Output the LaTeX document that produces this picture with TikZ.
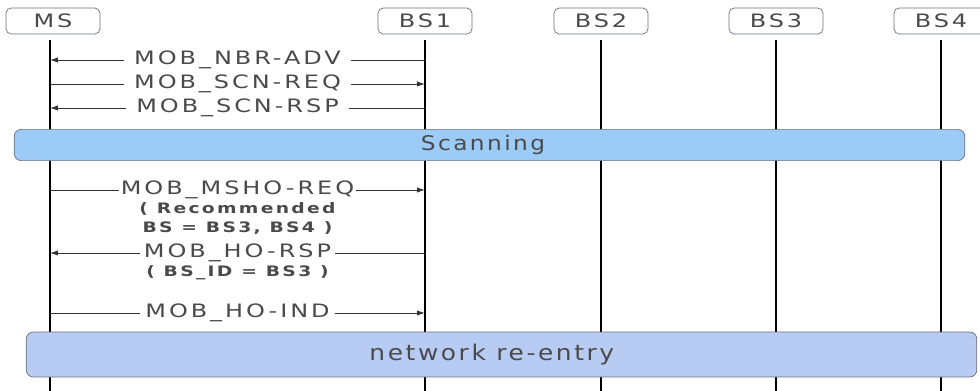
\documentclass[tikz,border=0pt]{standalone}
\usepackage{fontspec}
\setmainfont{DejaVu Sans}
\newfontfamily\seqfont[FakeStretch=1.3,LetterSpace=16]{DejaVu Sans}
\newfontfamily\phasefont[FakeStretch=1.15,LetterSpace=12]{DejaVu Sans}
\usetikzlibrary{arrows.meta}
\definecolor{txtgray}{HTML}{4A4A4A}
\definecolor{scanblue}{HTML}{9CCBF8}
\definecolor{reblue}{HTML}{B8CBF2}
\definecolor{edgegray}{HTML}{6A7080}
\tikzset{
    hdr/.style={draw=edgegray, fill=white, rounded corners=3pt, minimum width=53.5pt, minimum height=14.8pt,
        font=\seqfont\fontsize{10.5}{11}\selectfont, text=txtgray},
    life/.style={line width=1.6pt, black},
    msg/.style={line width=0.5pt, black!80, -{Latex[length=4.5pt,width=3pt]}},
    lbl/.style={fill=white, inner xsep=6pt, inner ysep=2pt, text=txtgray, font=\seqfont\fontsize{10.5}{11}\selectfont},
    note/.style={align=center, text=txtgray, font=\seqfont\bfseries\fontsize{8.2}{10.8}\selectfont},
    phase/.style={draw=edgegray, rounded corners=4pt, minimum width=541pt, text=txtgray}
}

\begin{document}
\begin{tikzpicture}[x=0.02cm, y=-0.02cm]
	\useasboundingbox (0,0) rectangle (980,391);
	
	% lifelines
	\foreach \n/\x in {ms/50, bs1/425, bs2/601, bs3/776, bs4/941} {
			\coordinate (\n-top) at (\x,40);
			\coordinate (\n-bot) at (\x,392);
			\draw[life] (\n-top) -- (\n-bot);
	}
	
	\node[hdr] (ms) at (53,21) {MS};
	\foreach \n/\t in {bs1/BS1, bs2/BS2, bs3/BS3, bs4/BS4} {
			\node[hdr] (\n) at (\n-top |- ms) {\t};
	}
	
	% message rows
	\foreach \r/\y in {r1/60, r2/84, r3/108, r4/190, r5/253, r6/313} {
			\coordinate (\r) at (0,\y);
	}
	
	\draw[msg] (bs1-top |- r1) -- node[lbl] {MOB\_NBR-ADV} (ms-top |- r1);
	\draw[msg] (ms-top |- r2) -- node[lbl] {MOB\_SCN-REQ} (bs1-top |- r2);
	\draw[msg] (bs1-top |- r3) -- node[lbl] {MOB\_SCN-RSP} (ms-top |- r3);
	
	\node[phase, fill=scanblue, minimum height=14.5pt, font=\phasefont\fontsize{11.5}{12}\selectfont] (scan) at (489.5,145) {Scanning\hspace*{7.4pt}};
	
	\draw[msg] (ms-top |- r4) -- node[lbl, inner xsep=1pt] (msho) {MOB\_MSHO-REQ} (bs1-top |- r4);
	\node[note] (rec) at ([yshift=-16.2pt]msho.center) {( Recommended\\BS = BS3, BS4 )};
	\draw[msg] (bs1-top |- r5) -- node[lbl, inner xsep=2pt] (horsp) {MOB\_HO-RSP} (ms-top |- r5);
	\node[note] (bsid) at ([yshift=-11pt]horsp.center) {( BS\_ID = BS3 )};
	\draw[msg] (ms-top |- r6) -- node[lbl, inner xsep=3pt] {MOB\_HO-IND} (bs1-top |- r6);
	
	\node[phase, fill=reblue, minimum height=25.6pt, font=\phasefont\fontsize{12.3}{14}\selectfont] (reentry) at (501.5,354.5) {network re-entry\hspace*{11pt}};
	
\end{tikzpicture}
\end{document}
